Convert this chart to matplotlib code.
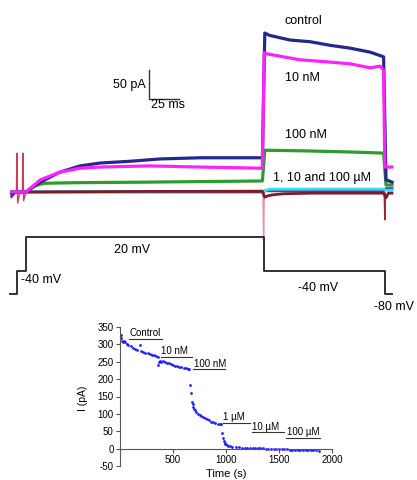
import matplotlib
matplotlib.use('Agg')
import matplotlib.pyplot as plt

plt.rcParams['font.family'] = ['Liberation Sans', 'DejaVu Sans']
plt.rcParams['axes.unicode_minus'] = False

# current traces (time in ms from the step to 20 mV, current in pA)
t_ctrl = [-12, -8, -3, 0, 12, 28, 45, 62, 87, 112, 145, 170, 197, 199, 203, 220, 237, 253, 270, 287, 298, 300, 305]
i_ctrl = [-3, 0, 0, 0, 17, 34, 45, 50, 53, 57, 59, 59, 59, 274, 270, 262, 259, 253, 248, 241, 233, 21, 17]

t_10nm = [-12, 0, 12, 28, 45, 62, 103, 145, 197, 198.5, 201, 228, 253, 270, 287, 295, 298, 299, 300, 305]
i_10nm = [0, 0, 21, 34, 41, 43, 45, 43, 41, 240, 238, 228, 224, 221, 214, 217, 210, 43, 43, 43]

t_100nm = [-12, 0, 6, 15, 40, 100, 197, 199, 230, 270, 298, 300, 305]
i_100nm = [0, 0, 10, 15, 16, 17, 19, 72, 71, 69, 67, 12, 12]

t_cyan = [-12, 0, 100, 197, 199, 203, 250, 298, 300, 305]
i_cyan = [0, 0, 1, 2, 2, 5, 5, 5, 3, 3]

t_purple = [-12, -9, 0, 100, 197, 199, 250, 298, 300, 305]
i_purple = [-8, 0, 0, 0, 0, 2, 2, 2, 6, 6]

t_red = [-12, 0, 100, 197, 199, 201, 205, 215, 240, 298, 300, 302, 305]
i_red = [0, 0, 1, 1, -9, -7, -5, -3, -2, -2, -10, -2, -2]

# capacitive artefacts (thin spikes)
t_art = [-8, -7.5, -7, -5, -3, -2.5, -2, 0]
i_art = [0, 67, -19, 0, 0, 67, -15, 0]
t_art_on = [197.5, 198, 198.5]
i_art_on = [0, -83, 0]
t_art_off = [298.5, 299, 299.5]
i_art_off = [-2, -48, -2]

# voltage protocol
v_times = [-13, -7.5, 0, 198, 299, 305]
v_levels = [-80, -40, 20, -40, -80, -80]

# time course of tail current (s, pA)
tc_time = [5, 12, 20, 30, 40, 50, 65, 80, 100, 120, 140, 160, 189, 200, 220, 240, 260, 280, 300, 320, 340, 355,
           360, 365, 375, 390, 405, 420, 440, 460, 480, 500, 520, 540, 560, 580, 600, 620, 640, 650,
           660, 670, 680, 686, 692, 700, 710, 720, 735, 750, 765, 780, 800, 820, 840, 860, 880, 900, 920, 940, 950,
           963, 972, 980, 988, 995, 1005, 1020, 1040, 1060, 1090, 1120, 1150, 1175, 1200, 1225, 1250, 1275, 1300,
           1325, 1350, 1375, 1400, 1425, 1450, 1475, 1500, 1525, 1550, 1575, 1600, 1625, 1650, 1675, 1700, 1725,
           1750, 1775, 1800, 1825, 1850, 1875]
tc_current = [328, 318, 310, 306, 309, 307, 302, 298, 294, 291, 288, 285, 297, 281, 278, 276, 274, 272, 270, 268, 267, 265,
              240, 248, 252, 250, 251, 248, 247, 245, 243, 241, 239, 237, 236, 234, 233, 232, 230, 229,
              184, 160, 135, 127, 120, 115, 111, 106, 101, 97, 93, 90, 87, 84, 81, 78, 76, 74, 72, 71, 70,
              44, 32, 22, 16, 13, 10, 8, 7, 6, 5, 4, 3, 3, 3, 2, 2, 2, 1,
              1, 1, 0, 0, 0, -1, -1, -1, -2, -2, -2, -3, -3, -3, -3, -4, -4,
              -4, -5, -5, -5, -5, -6]

drug_names = ['Control', '10 nM', '100 nM', '1 µM', '10 µM', '100 µM']
drug_start = [85, 384, 692, 969, 1242, 1566]
drug_end = [393, 682, 991, 1226, 1547, 1887]
drug_level = [316, 264, 228, 75, 47, 31]

fig = plt.figure(figsize=(4.17, 4.8), dpi=100)

# ---- current traces ----
ax = fig.add_axes([0, 230 / 480, 1, 250 / 480])
ax.plot(t_art, i_art, color='#c8405a', lw=1)
ax.plot(t_art_on, i_art_on, color='#f08ab0', lw=1)
ax.plot(t_art_off, i_art_off, color='#9a2a3a', lw=1)
ax.plot(t_purple, i_purple, color='#5a3fae', lw=2)
ax.plot(t_cyan, i_cyan, color='#2fe4f2', lw=2)
ax.plot(t_red, i_red, color='#7d1b2a', lw=2)
ax.plot(t_100nm, i_100nm, color='#2f9a2f', lw=2.3)
ax.plot(t_ctrl, i_ctrl, color='#26278a', lw=2.3)
ax.plot(t_10nm, i_10nm, color='#ff22ff', lw=2.3)
ax.set_xlim(-21.67, 325.83)
ax.set_ylim(-100, 331)
ax.axis('off')

# scale bar 25 ms / 50 pA
ax.plot([102.5, 102.5, 127.5], [210, 160, 160], color='#333333', lw=1)
ax.text(100, 185, '50 pA', ha='right', va='center', fontsize=9)
ax.text(104.5, 150, '25 ms', ha='left', va='center', fontsize=9)

ax.text(231, 295, 'control', ha='center', va='center', fontsize=9)
ax.text(230, 196, '10 nM', ha='center', va='center', fontsize=9)
ax.text(233, 98, '100 nM', ha='center', va='center', fontsize=9)
ax.text(247, 24, '1, 10 and 100 µM', ha='center', va='center', fontsize=9)

# ---- voltage protocol ----
axv = fig.add_axes([0, 160 / 480, 1, 95 / 480])
axv.plot(v_times, v_levels, drawstyle='steps-post', color='#222222', lw=1.3)
axv.set_xlim(-21.67, 325.83)
axv.set_ylim(-125.6, 41.05)
axv.axis('off')
axv.text(88, -3, '20 mV', ha='center', va='center', fontsize=9)
axv.text(-4, -55, '-40 mV', ha='left', va='center', fontsize=9)
axv.text(243, -69.5, '-40 mV', ha='center', va='center', fontsize=9)
axv.text(307, -103, '-80 mV', ha='center', va='center', fontsize=9)

# ---- time course inset ----
axi = fig.add_axes([120 / 417, 14 / 480, 212 / 417, 139 / 480])
axi.plot(tc_time, tc_current, ls='none', marker='o', ms=2, color='#1f1fff', mec='none')
for name, t0, t1, lev in zip(drug_names, drug_start, drug_end, drug_level):
    axi.plot([t0, t1], [lev, lev], color='#333333', lw=0.8)
    axi.text(t0 + 5, lev + 2, name, ha='left', va='bottom', fontsize=7)
axi.set_xlim(0, 2000)
axi.set_ylim(-50, 350)
axi.spines['top'].set_visible(False)
axi.spines['right'].set_visible(False)
axi.spines['bottom'].set_position(('data', 0))
for s in ['left', 'bottom']:
    axi.spines[s].set_color('#555555')
    axi.spines[s].set_linewidth(0.8)
axi.set_xticks([500, 1000, 1500, 2000])
axi.set_yticks(range(-50, 351, 50))
axi.tick_params(labelsize=7, length=3, width=0.8, color='#555555', pad=1.5)
axi.patch.set_alpha(0)
axi.set_xlabel('Time (s)', fontsize=8, labelpad=0)
axi.xaxis.set_label_coords(0.5, -0.02)
axi.set_ylabel('I (pA)', fontsize=7.5, labelpad=1)
axi.yaxis.set_label_coords(-0.15, 0.49)

fig.savefig('out.png', dpi=100)
